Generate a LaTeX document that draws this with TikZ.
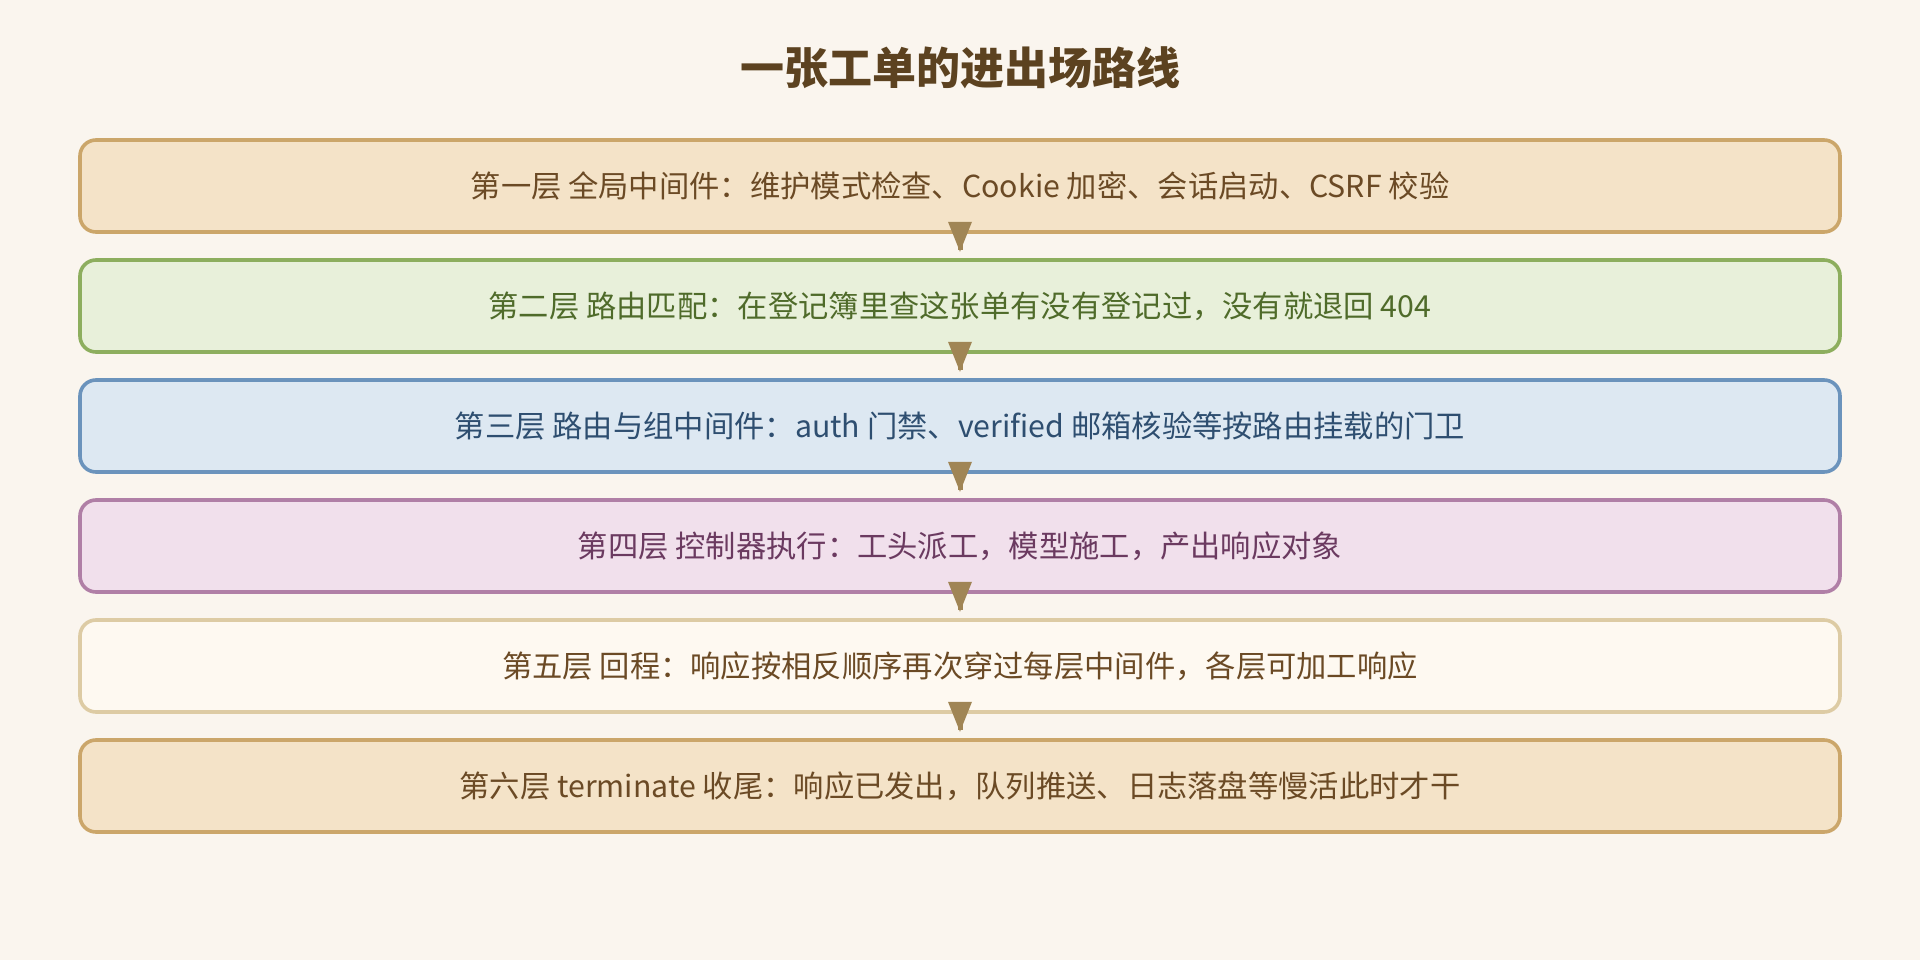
\documentclass[tikz,border=0pt]{standalone}
\usepackage{fontspec}
\setmainfont{Noto Sans CJK SC}
\usetikzlibrary{calc}
\definecolor{bgc}{HTML}{FAF5EE}
\definecolor{titlec}{HTML}{5C4220}
\definecolor{arrc}{HTML}{A08555}
\definecolor{fillA}{HTML}{F4E3C8}
\definecolor{drawA}{HTML}{CBA66A}
\definecolor{textA}{HTML}{6B4A25}
\definecolor{fillB}{HTML}{E8F0DA}
\definecolor{drawB}{HTML}{8DAE5E}
\definecolor{textB}{HTML}{4F6B2A}
\definecolor{fillC}{HTML}{DDE8F2}
\definecolor{drawC}{HTML}{6B93BC}
\definecolor{textC}{HTML}{2E4E70}
\definecolor{fillD}{HTML}{F1E0EC}
\definecolor{drawD}{HTML}{B07FA6}
\definecolor{textD}{HTML}{6B3A60}
\definecolor{fillE}{HTML}{FEF9F1}
\definecolor{drawE}{HTML}{DDCBA4}
\tikzset{
  layer/.style={rectangle, rounded corners=16pt, line width=3.6pt,
    minimum width=1760pt, minimum height=92pt, inner sep=0pt,
    font=\fontsize{30.3}{36}\selectfont},
  layerA/.style={layer, fill=fillA, draw=drawA, text=textA},
  layerB/.style={layer, fill=fillB, draw=drawB, text=textB},
  layerC/.style={layer, fill=fillC, draw=drawC, text=textC},
  layerD/.style={layer, fill=fillD, draw=drawD, text=textD},
  layerE/.style={layer, fill=fillE, draw=drawE, text=textA},
  shaft/.style={draw=arrc, line width=5pt, shorten >=8pt},
  headc/.style={fill=arrc},
}
\begin{document}
\begin{tikzpicture}[x=1pt,y=-1pt]
\fill[bgc] (0,0) rectangle (1920,960);
\useasboundingbox (0,0) rectangle (1920,960);
\node[text=titlec, font=\fontsize{44}{52}\selectfont\bfseries] (title) at (960,68) {一张工单的进出场路线};
\node[layerA] (b1) at (960,186) {第一层 全局中间件：维护模式检查、Cookie 加密、会话启动、CSRF 校验};
\node[layerB] (b2) at (960,306) {第二层 路由匹配：在登记簿里查这张单有没有登记过，没有就退回 404};
\node[layerC] (b3) at (960,426) {第三层 路由与组中间件：auth 门禁、verified 邮箱核验等按路由挂载的门卫};
\node[layerD] (b4) at (960,546) {第四层 控制器执行：工头派工，模型施工，产出响应对象};
\node[layerE] (b5) at (960,666) {第五层 回程：响应按相反顺序再次穿过每层中间件，各层可加工响应};
\node[layerA] (b6) at (960,786) {第六层 terminate 收尾：响应已发出，队列推送、日志落盘等慢活此时才干};
\foreach \a/\b in {b1/b2,b2/b3,b3/b4,b4/b5,b5/b6}{
  \draw[shaft] (\a.south) -- (\b.north);
  \fill[headc] ($(\a.south)+(-12,-12)$) -- ($(\a.south)+(12,-12)$) -- ($(\a.south)+(0,18)$) -- cycle;
}
\end{tikzpicture}
\end{document}
